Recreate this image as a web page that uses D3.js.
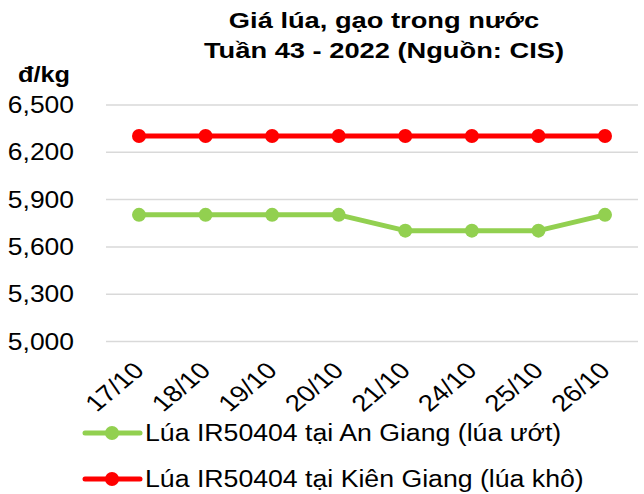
<!DOCTYPE html>
<html>
<head>
<meta charset="utf-8">
<script src="https://cdn.jsdelivr.net/npm/d3@7"></script>
<style>
  html, body { margin: 0; padding: 0; background: #fff; }
  svg { display: block; font-family: "Liberation Sans", Arial, sans-serif; }
</style>
</head>
<body>
<svg id="chart" width="644" height="494"></svg>
<script>
// Weekly domestic paddy prices (đ/kg)
const categories = ["17/10", "18/10", "19/10", "20/10", "21/10", "24/10", "25/10", "26/10"];
const anGiang   = [5800, 5800, 5800, 5800, 5700, 5700, 5700, 5800];
const kienGiang = [6300, 6300, 6300, 6300, 6300, 6300, 6300, 6300];
const yTicks = [5000, 5300, 5600, 5900, 6200, 6500];
const seriesNames = ["Lúa IR50404 tại An Giang (lúa ướt)", "Lúa IR50404 tại Kiên Giang (lúa khô)"];
const seriesColors = ["#92D050", "#FF0000"];

const svg = d3.select("#chart");
const x = d3.scalePoint().domain(categories).range([139, 605]);
const y = d3.scaleLinear().domain([5000, 6500]).range([341, 104.5]);

// Text drawn slightly wide
function wideText(sel, px, py, anchor, sx) {
  return sel.attr("transform", `translate(${px},${py}) scale(${sx},1)`)
    .attr("x", 0).attr("y", 0)
    .attr("text-anchor", anchor);
}

// Title
[["Giá lúa, gạo trong nước", 28], ["Tuần 43 - 2022 (Nguồn: CIS)", 58]].forEach(([t, ty]) => {
  wideText(svg.append("text"), 384, ty, "middle", 1.24)
    .attr("font-weight", "bold")
    .attr("font-size", 22)
    .text(t);
});

// Unit label
wideText(svg.append("text"), 44, 82, "middle", 1.15)
  .attr("font-weight", "bold")
  .attr("font-size", 22)
  .text("đ/kg");

// Gridlines + y axis labels
const yAxis = d3.axisLeft(y)
  .tickValues(yTicks)
  .tickFormat(d3.format(","))
  .tickSize(-(638 - 106))
  .tickPadding(32);
const gy = svg.append("g").attr("transform", "translate(106,0)").call(yAxis);
gy.select(".domain").remove();
gy.selectAll(".tick line").attr("stroke", "#d9d9d9").attr("stroke-width", 1.5);
gy.selectAll(".tick text")
  .attr("font-size", 23)
  .attr("font-family", "Liberation Sans, Arial, sans-serif")
  .attr("fill", "#000")
  .attr("x", 0).attr("dy", "0.35em")
  .attr("transform", `translate(-32,0) scale(1.15,1)`);

// X axis labels, rotated
const xAxis = d3.axisBottom(x).tickSize(0).tickPadding(0);
const gx = svg.append("g").attr("transform", "translate(0,341)").call(xAxis);
gx.select(".domain").remove();
gx.selectAll(".tick text")
  .attr("font-size", 23)
  .attr("font-family", "Liberation Sans, Arial, sans-serif")
  .attr("fill", "#000")
  .attr("text-anchor", "end")
  .attr("y", 0).attr("dy", 0)
  .attr("transform", `translate(6,31) scale(1.2,1) rotate(-45)`);

// Series lines and markers
const series = [anGiang, kienGiang];
const line = d3.line().x((d, i) => x(categories[i])).y(d => y(d));
series.forEach((vals, k) => {
  svg.append("path")
    .datum(vals)
    .attr("d", line)
    .attr("fill", "none")
    .attr("stroke", seriesColors[k])
    .attr("stroke-width", 5)
    .attr("stroke-linejoin", "round");
  svg.append("g").selectAll("circle")
    .data(vals)
    .join("circle")
    .attr("cx", (d, i) => x(categories[i]))
    .attr("cy", d => y(d))
    .attr("r", 7)
    .attr("fill", seriesColors[k]);
});

// Legend
const legend = svg.append("g");
seriesNames.forEach((name, k) => {
  const ly = 433 + k * 46;
  legend.append("line")
    .attr("x1", 85).attr("x2", 140)
    .attr("y1", ly).attr("y2", ly)
    .attr("stroke", seriesColors[k]).attr("stroke-width", 5)
    .attr("stroke-linecap", "round");
  legend.append("circle")
    .attr("cx", 112).attr("cy", ly).attr("r", 7)
    .attr("fill", seriesColors[k]);
  wideText(legend.append("text"), 145, ly + 8, "start", 1.16)
    .attr("font-size", 23)
    .attr("fill", "#000")
    .text(name);
});
</script>
</body>
</html>
